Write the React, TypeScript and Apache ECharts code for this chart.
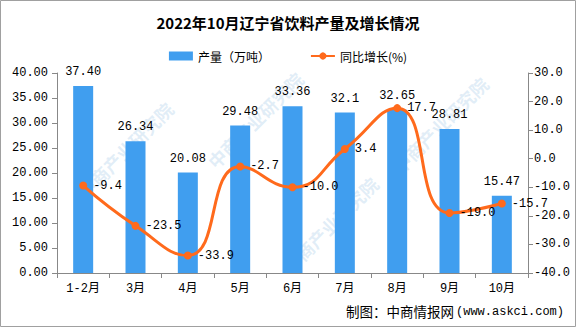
import React, { useEffect, useRef } from "react";
import * as echarts from "echarts";

const categories = ["1-2月", "3月", "4月", "5月", "6月", "7月", "8月", "9月", "10月"];
const production = [37.4, 26.34, 20.08, 29.48, 33.36, 32.1, 32.65, 28.81, 15.47];
const productionLabels = ["37.40", "26.34", "20.08", "29.48", "33.36", "32.1", "32.65", "28.81", "15.47"];
const growth = [-9.4, -23.5, -33.9, -2.7, -10.0, 3.4, 17.7, -19.0, -15.7];

const FONT = "'Liberation Mono', 'Noto Sans CJK SC', monospace";
const CJK = "'Noto Sans CJK SC', sans-serif";

const watermarks: [number, number][] = [
  [125, 150], [440, 125], [330, 225], [255, 120],
];

export default function App() {
  const ref = useRef<HTMLDivElement>(null);
  useEffect(() => {
    if (!ref.current) return;
    const chart = echarts.init(ref.current, undefined, { renderer: "svg" });
    const graphics: any[] = watermarks.map(([x, y]) => ({
      type: "text",
      x,
      y,
      rotation: Math.PI / 4,
      z: 0,
      silent: true,
      style: {
        text: "中商产业研究院",
        fill: "rgba(170,205,232,0.35)",
        font: `bold 18px ${CJK}`,
        align: "center",
        verticalAlign: "middle",
      },
    }));
    graphics.push({
      type: "rect",
      shape: { x: 0.5, y: 0.5, width: 575, height: 326 },
      style: { fill: "none", stroke: "#a0a0a0", lineWidth: 1 },
      silent: true,
    });
    graphics.push({
      type: "text",
      right: 12,
      top: 306,
      style: {
        text: "(www.askci.com)",
        fill: "#000",
        font: `12px ${FONT}`,
      },
    });
    graphics.push({
      type: "text",
      right: 122,
      top: 304,
      style: {
        text: "制图：中商情报网",
        fill: "#000",
        font: `13.5px ${CJK}`,
      },
    });
    chart.setOption({
      animation: false,
      backgroundColor: "#fff",
      title: {
        text: "2022年10月辽宁省饮料产量及增长情况",
        left: "center",
        top: 10,
        textStyle: { fontSize: 15, fontWeight: "bold", color: "#000", fontFamily: CJK },
      },
      legend: {
        top: 45,
        left: "center",
        itemGap: 40,
        itemWidth: 24,
        itemHeight: 9,
        textStyle: { fontSize: 12, color: "#000", fontFamily: CJK },
        data: [
          { name: "产量（万吨）", icon: "rect" },
          { name: "同比增长(%)" },
        ],
      },
      grid: { left: 57, right: 48, top: 73, bottom: 54 },
      xAxis: {
        type: "category",
        data: categories,
        axisLine: { lineStyle: { color: "#888" } },
        axisTick: { show: true, alignWithLabel: false, length: 5, lineStyle: { color: "#888" } },
        axisLabel: { color: "#000", fontSize: 12, fontFamily: FONT, margin: 10, interval: 0 },
      },
      yAxis: [
        {
          type: "value",
          min: 0,
          max: 40,
          interval: 5,
          splitLine: { show: false },
          axisLine: { show: true, lineStyle: { color: "#888" } },
          axisTick: { show: true, length: 5, lineStyle: { color: "#888" } },
          axisLabel: { color: "#000", fontSize: 12, fontFamily: FONT, formatter: (v: number) => v.toFixed(2), margin: 9 },
        },
        {
          type: "value",
          min: -40,
          max: 30,
          interval: 10,
          splitLine: { show: false },
          axisLine: { show: true, lineStyle: { color: "#888" } },
          axisTick: { show: true, length: 5, lineStyle: { color: "#888" } },
          axisLabel: { color: "#000", fontSize: 12, fontFamily: FONT, formatter: (v: number) => v.toFixed(1), margin: 6 },
        },
      ],
      series: [
        {
          name: "产量（万吨）",
          type: "bar",
          data: production,
          barWidth: 20,
          itemStyle: { color: "#409EEF" },
          label: {
            show: true,
            position: "top",
            distance: 8,
            color: "#000",
            fontSize: 12,
            fontFamily: FONT,
            formatter: (p: any) => productionLabels[p.dataIndex],
          },
        },
        {
          name: "同比增长(%)",
          type: "line",
          yAxisIndex: 1,
          data: growth,
          smooth: 0.5,
          symbol: "circle",
          symbolSize: 8,
          lineStyle: { color: "#FF6A1C", width: 3 },
          itemStyle: { color: "#FF6A1C" },
          label: {
            show: true,
            position: "right",
            distance: 6,
            color: "#000",
            fontSize: 12,
            fontFamily: FONT,
            formatter: (p: any) => (p.value as number).toFixed(1),
          },
        },
      ],
      graphic: graphics,
    });
    return () => chart.dispose();
  }, []);
  return <div ref={ref} style={{ position: "fixed", left: 0, top: 0, width: 576, height: 327 }} />;
}
